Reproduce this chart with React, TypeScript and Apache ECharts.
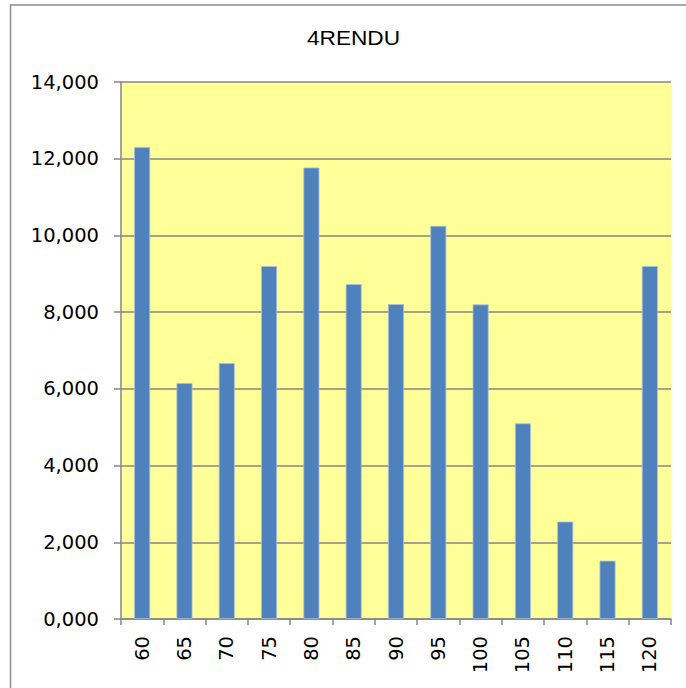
import React, { useEffect, useRef } from "react";
import * as echarts from "echarts";

const categories = ["60", "65", "70", "75", "80", "85", "90", "95", "100", "105", "110", "115", "120"];
const values = [12300, 6150, 6670, 9200, 11770, 8730, 8210, 10250, 8200, 5100, 2540, 1520, 9200];
const yTicks = [0, 2000, 4000, 6000, 8000, 10000, 12000, 14000];
const title = "4RENDU";

function fmt(v: number): string {
  const th = Math.floor(v / 1000);
  const rest = String(Math.round(v % 1000)).padStart(3, "0");
  return th + "," + rest;
}

const labelFont = "DejaVu Sans, Verdana, sans-serif";

export default function App() {
  const ref = useRef<HTMLDivElement>(null);
  useEffect(() => {
    if (!ref.current) return;
    const chart = echarts.init(ref.current, null, { renderer: "svg" });
    chart.setOption({
      animation: false,
      backgroundColor: "#ffffff",
      graphic: [
        {
          type: "rect",
          shape: { x: 10.5, y: 5, width: 700, height: 700 },
          style: { fill: "none", stroke: "#8c8c8c", lineWidth: 1.5 },
          silent: true,
          z: -1,
        },
        {
          type: "text",
          x: 353.5,
          y: 38,
          scaleX: 1.08,
          style: {
            text: title,
            fontFamily: "Liberation Sans, Arial, sans-serif",
            fontSize: 21,
            fill: "#000000",
            align: "center",
            verticalAlign: "middle",
          },
          silent: true,
        },
      ],
      grid: {
        left: 121,
        top: 82,
        right: 15,
        bottom: 69,
        show: true,
        backgroundColor: "#FFFF99",
        borderWidth: 0,
      },
      xAxis: {
        type: "category",
        data: categories,
        boundaryGap: true,
        axisLine: { show: true, lineStyle: { color: "#868686", width: 1.5 } },
        axisTick: { show: true, length: 6, lineStyle: { color: "#868686", width: 1.5 } },
        axisLabel: {
          rotate: 90,
          margin: 17,
          fontFamily: labelFont,
          fontSize: 19.5,
          color: "#000000",
        },
      },
      yAxis: {
        type: "value",
        min: 0,
        max: 14000,
        interval: 2000,
        axisLine: { show: true, lineStyle: { color: "#868686", width: 1.5 } },
        axisTick: { show: true, length: 7, lineStyle: { color: "#868686", width: 1.5 } },
        splitLine: { show: true, lineStyle: { color: "#868686", width: 1.5 } },
        axisLabel: {
          margin: 22,
          fontFamily: labelFont,
          fontSize: 19.5,
          color: "#000000",
          formatter: (v: number) => (yTicks.includes(v) ? fmt(v) : ""),
        },
      },
      series: [
        {
          type: "bar",
          data: values,
          barWidth: 16,
          itemStyle: { color: "#4F81BD", borderColor: "#a9bfdc", borderWidth: 0.8 },
        },
      ],
    });
    return () => chart.dispose();
  }, []);
  return (
    <div
      ref={ref}
      style={{ position: "absolute", left: 0, top: 0, width: 686, height: 688 }}
    />
  );
}
